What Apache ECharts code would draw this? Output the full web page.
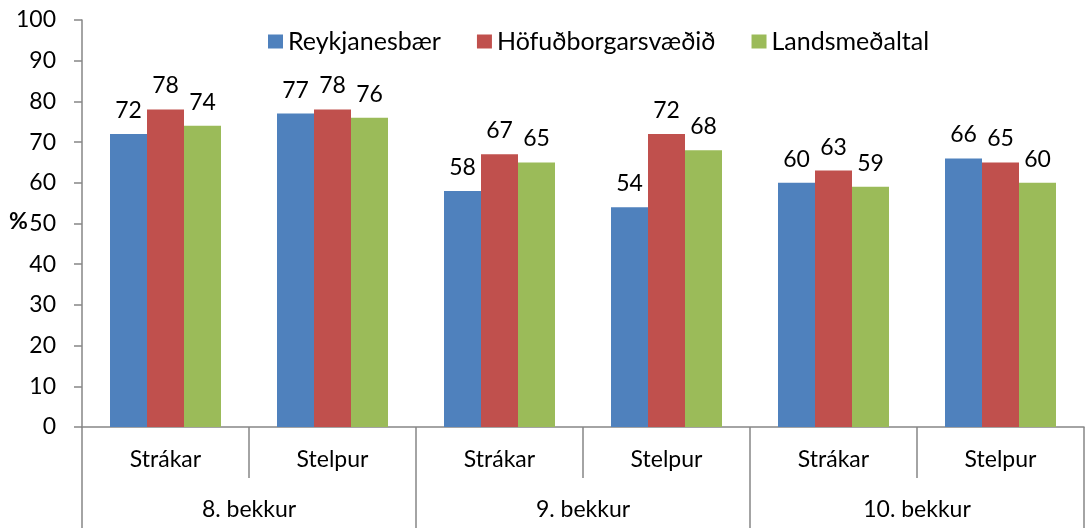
<!DOCTYPE html>
<html>
<head>
<meta charset="utf-8">
<script src="https://cdn.jsdelivr.net/npm/echarts@6/dist/echarts.min.js"></script>
<style>
  html, body { margin: 0; padding: 0; background: #fff; }
  #chart { width: 1085px; height: 528px; }
</style>
</head>
<body>
<div id="chart"></div>
<script>
// Sub-categories (gender) and their grade groups
const subCategories = ['Strákar', 'Stelpur', 'Strákar', 'Stelpur', 'Strákar', 'Stelpur'];
const grades = ['8. bekkur', '9. bekkur', '10. bekkur'];

// Percentages per region
const reykjanesbaer = [72, 77, 58, 54, 60, 66];
const hofudborgarsvaedid = [78, 78, 67, 72, 63, 65];
const landsmedaltal = [74, 76, 65, 68, 59, 60];

const seriesNames = ['Reykjanesbær', 'Höfuðborgarsvæðið', 'Landsmeðaltal'];
const seriesColors = ['#4F81BD', '#C0504D', '#9BBB59'];
const seriesData = [reykjanesbaer, hofudborgarsvaedid, landsmedaltal];

const FONT = 'Lato, "Open Sans", sans-serif';
const FS = 23;
const axisGray = '#868686';

const chart = echarts.init(document.getElementById('chart'), null, { renderer: 'canvas' });

chart.setOption({
  animation: false,
  textStyle: { fontFamily: FONT },
  legend: {
    left: 263,
    top: 24,
    itemWidth: 15,
    itemHeight: 14,
    itemGap: 36,
    icon: 'rect',
    textStyle: { fontSize: 25, color: '#000', fontFamily: FONT, padding: [0, 0, 0, 0] },
    data: seriesNames
  },
  grid: { left: 82, right: 1, top: 20, bottom: 101, containLabel: false },
  xAxis: [
    {
      type: 'category',
      data: subCategories,
      position: 'bottom',
      axisLine: { lineStyle: { color: axisGray, width: 1.5 } },
      axisTick: { show: true, interval: 0, length: 51, lineStyle: { color: axisGray, width: 1.5 } },
      axisLabel: { interval: 0, color: '#000', fontSize: FS, fontFamily: FONT, margin: 21 }
    },
    {
      type: 'category',
      data: grades,
      position: 'bottom',
      offset: 51,
      axisLine: { show: false },
      axisTick: { show: true, interval: 0, length: 55, lineStyle: { color: axisGray, width: 1.5 } },
      axisLabel: { interval: 0, color: '#000', fontSize: FS, fontFamily: FONT, margin: 20 }
    }
  ],
  yAxis: {
    type: 'value',
    min: 0,
    max: 100,
    interval: 10,
    axisLine: { show: true, lineStyle: { color: axisGray, width: 1.5 } },
    axisTick: { show: true, length: 8, lineStyle: { color: axisGray, width: 1.5 } },
    splitLine: { show: false },
    axisLabel: { color: '#000', fontSize: FS, fontFamily: FONT, margin: 26 }
  },
  graphic: [
    {
      type: 'text',
      left: 9,
      top: 210,
      style: { text: '%', fontSize: 23, fontWeight: 'bold', fill: '#000', fontFamily: FONT }
    }
  ],
  series: seriesNames.map((name, i) => ({
    name: name,
    type: 'bar',
    xAxisIndex: 0,
    data: seriesData[i],
    barWidth: 37,
    barGap: '0%',
    itemStyle: { color: seriesColors[i] },
    label: {
      show: true,
      position: 'top',
      distance: 12,
      color: '#000',
      fontSize: FS,
      fontFamily: FONT
    }
  }))
});
</script>
</body>
</html>
